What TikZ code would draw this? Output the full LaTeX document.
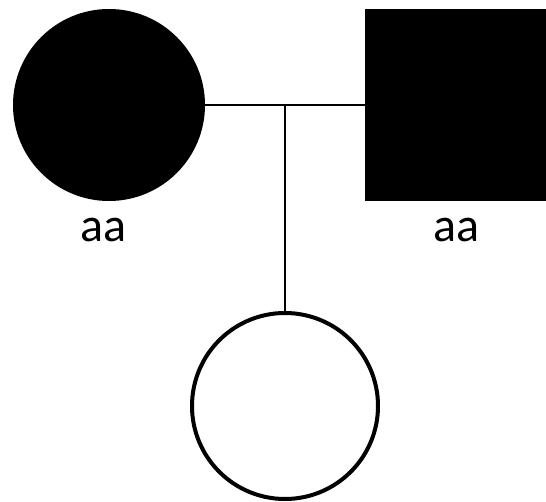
\documentclass[tikz,border=0pt]{standalone}
\usepackage{fontspec}
\setmainfont{Carlito}
\usepackage{tikz}

\begin{document}
\begin{tikzpicture}
[x=1pt, y=1pt,
female/.style={circle, inner sep = 0pt, minimum size = 192pt},
male/.style={rectangle, inner sep = 0pt, minimum size = 192pt},
affected/.style={fill = black},
unaffected/.style={draw = black, fill = white, line width = 4pt},
genotype/.style={font=\fontsize{48}{58}\selectfont, inner sep = 0pt},
mating/.style={black, line width = 2pt}]
\clip (0,0) rectangle (546,-502);
\node[female, affected] (mother) at (109,-105) {};
\node[male, affected] (father) at (461,-105) {};
\node[female, unaffected, minimum size = 186pt] (child) at (285,-406) {};
\node[genotype] (mother genotype) at (103,-230) {aa};
\node[genotype] (father genotype) at (456,-230) {aa};
\coordinate (mate) at (285,-105);
\draw[mating] (mother) -- (father);
\draw[mating] (mate) -- (child);
\end{tikzpicture}
\end{document}
